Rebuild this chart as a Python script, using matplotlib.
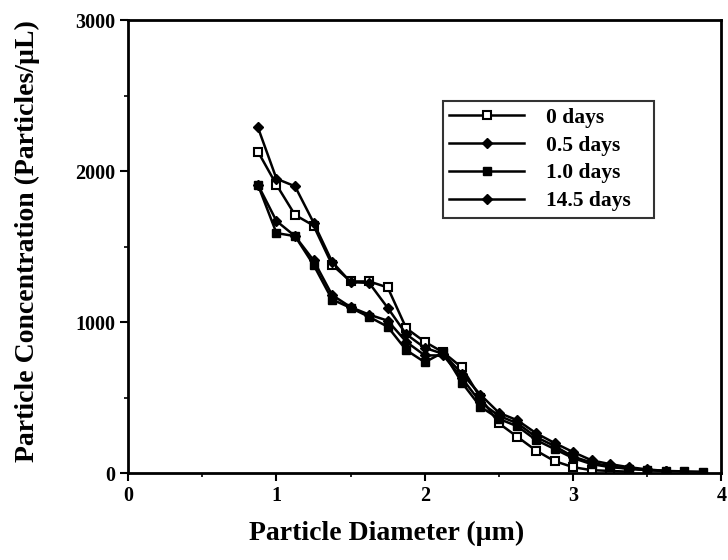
import numpy as np
import matplotlib
matplotlib.use("Agg")
import matplotlib.pyplot as plt

# ----------------------------------------------------------------------------
# Data
# ----------------------------------------------------------------------------
diam = [0.875, 1.0, 1.125, 1.25, 1.375, 1.5, 1.625, 1.75, 1.875, 2.0, 2.125,
        2.25, 2.375, 2.5, 2.625, 2.75, 2.875, 3.0, 3.125, 3.25, 3.375, 3.5,
        3.625, 3.75, 3.875]

days_0 = [2130, 1910, 1710, 1640, 1380, 1270, 1270, 1230, 960, 870, 800,
          700, 500, 330, 240, 150, 80, 40, 20, 15, 10]
days_05 = [1910, 1670, 1570, 1410, 1180, 1100, 1050, 1010, 870, 780, 780,
           630, 470, 380, 330, 240, 180, 110, 70, 45, 30, 20, 15]
days_10 = [1910, 1590, 1570, 1380, 1150, 1095, 1035, 970, 815, 735, 800,
           600, 440, 360, 310, 220, 160, 100, 60, 40, 30, 20, 15, 12, 10]
days_145 = [2290, 1950, 1900, 1660, 1400, 1265, 1260, 1095, 920, 830, 790,
            660, 520, 400, 350, 265, 200, 140, 85, 60, 40, 25, 15]

labels = ["0 days", "0.5 days", "1.0 days", "14.5 days"]
x_ticks = [0, 1, 2, 3, 4]
y_ticks = [0, 1000, 2000, 3000]

plt.rcParams["font.family"] = ["Liberation Serif", "DejaVu Serif"]
plt.rcParams["font.weight"] = "bold"

fig = plt.figure(figsize=(7.28, 5.6), dpi=100)
ax = fig.add_axes([0.176, 0.155, 0.815, 0.809])

ax.plot(diam[:len(days_0)], days_0, "-s", color="black", lw=1.8,
        markersize=6, markerfacecolor="white", markeredgewidth=1.5,
        label=labels[0])
ax.plot(diam[:len(days_05)], days_05, "-D", color="black", lw=1.8,
        markersize=5, label=labels[1])
ax.plot(diam[:len(days_10)], days_10, "-s", color="black", lw=1.8,
        markersize=6, label=labels[2])
ax.plot(diam[:len(days_145)], days_145, "-D", color="black", lw=1.8,
        markersize=5, label=labels[3])

ax.set_xlim(0, 4)
ax.set_ylim(0, 3000)
ax.set_xticks(x_ticks)
ax.set_xticks(np.arange(0, 4.01, 0.5), minor=True)
ax.set_yticks(y_ticks)
ax.set_yticks(np.arange(0, 3001, 500), minor=True)
ax.tick_params(which="major", direction="out", length=6, width=1.5,
               labelsize=14.5)
ax.tick_params(which="minor", direction="out", length=3, width=1.2)
for lbl in ax.get_xticklabels() + ax.get_yticklabels():
    lbl.set_fontweight("bold")
for sp in ax.spines.values():
    sp.set_linewidth(2)

ax.set_xlabel("Particle Diameter (µm)", fontsize=20, fontweight="bold")
ax.set_ylabel("Particle Concentration (Particles/µL)", fontsize=20,
              fontweight="bold")
ax.xaxis.set_label_coords(0.436, -0.105)
ax.yaxis.set_label_coords(-0.148, 0.512)

leg = ax.legend(loc="upper left", bbox_to_anchor=(0.53, 0.821, 0.357, 0),
                mode="expand",
                frameon=True, fancybox=False, edgecolor="black",
                handlelength=3.5, handletextpad=1.0, borderpad=0.3,
                labelspacing=0.36, borderaxespad=0,
                prop={"weight": "bold", "size": 15.5})
leg.get_frame().set_linewidth(1.5)

fig.savefig("out.png", dpi=100)
